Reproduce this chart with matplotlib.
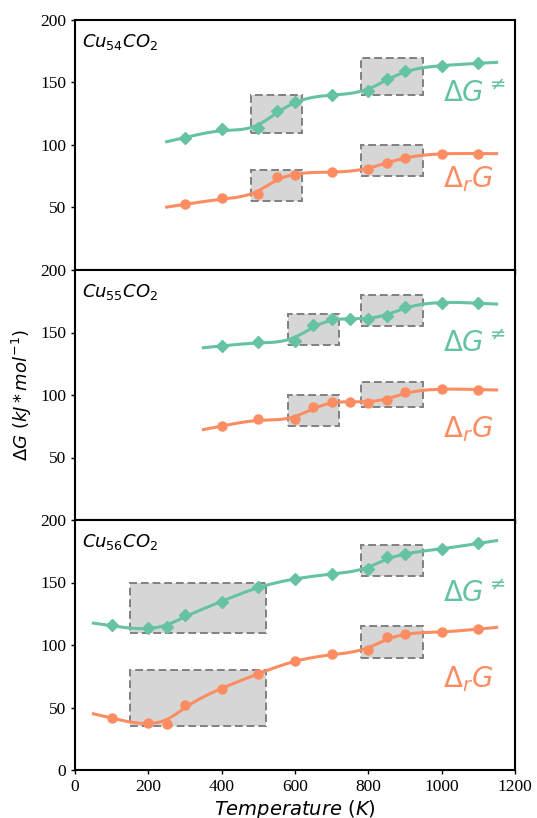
import numpy as np
import matplotlib
matplotlib.use("Agg")
import matplotlib.pyplot as plt
from matplotlib.patches import Rectangle

# ---------------- data ----------------
panel_names = ["Cu_{54}CO_2", "Cu_{55}CO_2", "Cu_{56}CO_2"]

T54 = [300, 400, 500, 550, 600, 700, 800, 850, 900, 1000, 1100]
dGts54 = [105.8, 112.5, 113.3, 127.2, 134.7, 140.0, 143.2, 152.8, 159.0, 163.2, 165.3]
dGr54 = [52.5, 57.3, 60.5, 74.7, 76.3, 78.1, 80.8, 85.9, 89.9, 92.8, 93.1]
range54 = (250, 1150)

T55 = [400, 500, 600, 650, 700, 750, 800, 850, 900, 1000, 1100]
dGts55 = [139.2, 142.4, 143.5, 156.0, 160.8, 160.8, 160.8, 163.2, 170.7, 173.9, 173.3]
dGr55 = [75.0, 80.5, 80.5, 90.4, 94.4, 94.7, 93.9, 96.0, 102.4, 104.5, 104.3]
range55 = (350, 1150)

T56 = [100, 200, 250, 300, 400, 500, 600, 700, 800, 850, 900, 1000, 1100]
dGts56 = [115.7, 113.3, 114.7, 123.7, 134.7, 146.1, 152.8, 157.1, 160.5, 170.4, 172.5, 176.8, 181.3]
dGr56 = [41.9, 37.9, 37.1, 52.3, 65.1, 76.8, 87.2, 92.5, 96.0, 106.1, 108.5, 110.1, 112.8]
range56 = (50, 1150)

# highlight boxes: (x0, x1, y0, y1)
boxes54 = [(480, 620, 110, 140), (480, 620, 55, 80), (780, 950, 140, 170), (780, 950, 75, 100)]
boxes55 = [(580, 720, 140, 165), (580, 720, 75, 100), (780, 950, 155, 180), (780, 950, 90, 110)]
boxes56 = [(150, 520, 110, 150), (150, 520, 35, 80), (780, 950, 155, 180), (780, 950, 90, 115)]

xticks = [0, 200, 400, 600, 800, 1000, 1200]
yticks_top = [50, 100, 150, 200]
yticks_bottom = [0, 50, 100, 150, 200]

GREEN = "#66c2a5"
ORANGE = "#fc8d62"


def smooth_curve(x, y, x0, x1, step=2.5, lam=1500.0):
    """Penalised (smoothing-spline like) curve fitted to the points."""
    x = np.asarray(x, float)
    y = np.asarray(y, float)
    n = int(round((x1 - x0) / step)) + 1
    grid = x0 + step * np.arange(n)
    wdiag = np.zeros(n)
    rhs = np.zeros(n)
    for xi, yi in zip(x, y):
        j = int(round((xi - x0) / step))
        wdiag[j] += 1.0
        rhs[j] += yi
    D = np.zeros((n - 2, n))
    idx = np.arange(n - 2)
    D[idx, idx] = 1.0
    D[idx, idx + 1] = -2.0
    D[idx, idx + 2] = 1.0
    A = np.diag(wdiag) + lam * D.T @ D
    f = np.linalg.solve(A, rhs)
    return grid, f


fig = plt.figure(figsize=(5.37, 8.18), dpi=100)
left, right = 75 / 537, 515 / 537
top, bottom = 1 - 20 / 818, 1 - 770 / 818
h = (top - bottom) / 3

serif = ["Liberation Serif", "DejaVu Serif"]

panels = [
    (T54, dGts54, dGr54, range54, boxes54),
    (T55, dGts55, dGr55, range55, boxes55),
    (T56, dGts56, dGr56, range56, boxes56),
]

for k, (T, gts, gr, rng, boxes) in enumerate(panels):
    ax = fig.add_axes([left, top - (k + 1) * h, right - left, h])
    for (bx0, bx1, by0, by1) in boxes:
        ax.add_patch(Rectangle((bx0, by0), bx1 - bx0, by1 - by0,
                               facecolor="#d6d6d6", edgecolor="#808080",
                               linestyle=(0, (4, 2)), linewidth=1.4, zorder=1))
    gx, gy = smooth_curve(T, gts, *rng)
    ax.plot(gx, gy, color=GREEN, lw=2.2, zorder=2)
    ax.plot(T, gts, "D", color=GREEN, ms=6, zorder=3)
    ox, oy = smooth_curve(T, gr, *rng)
    ax.plot(ox, oy, color=ORANGE, lw=2.2, zorder=2)
    ax.plot(T, gr, "o", color=ORANGE, ms=6.5, zorder=3)

    ax.text(1003, 141, r"$\Delta G^{\neq}$", color=GREEN, fontsize=20,
            ha="left", va="center")
    ax.text(1003, 73, r"$\Delta_r G$", color=ORANGE, fontsize=20,
            ha="left", va="center")
    ax.text(0.017, 0.95, r"$\mathit{" + panel_names[k] + "}$",
            transform=ax.transAxes, fontsize=13, ha="left", va="top")

    ax.set_xlim(0, 1200)
    ax.set_ylim(0, 200)
    ax.set_xticks(xticks)
    if k < 2:
        ax.set_yticks(yticks_top)
        ax.tick_params(axis="x", labelbottom=False, length=0)
    else:
        ax.set_yticks(yticks_bottom)
        ax.set_xticklabels([str(t) for t in xticks])
        ax.set_xlabel(r"$Temperature\ (K)$", fontsize=14, labelpad=2)
    ax.tick_params(axis="both", direction="out", length=3, width=1)
    for lab in ax.get_yticklabels() + ax.get_xticklabels():
        lab.set_fontfamily(serif)
        lab.set_fontsize(12.5)
    for s in ax.spines.values():
        s.set_linewidth(1.5)
    if k == 1:
        ax.set_ylabel(r"$\Delta G\ (kJ*mol^{-1})$", fontsize=13, labelpad=4)

fig.savefig("out.png", dpi=100)
